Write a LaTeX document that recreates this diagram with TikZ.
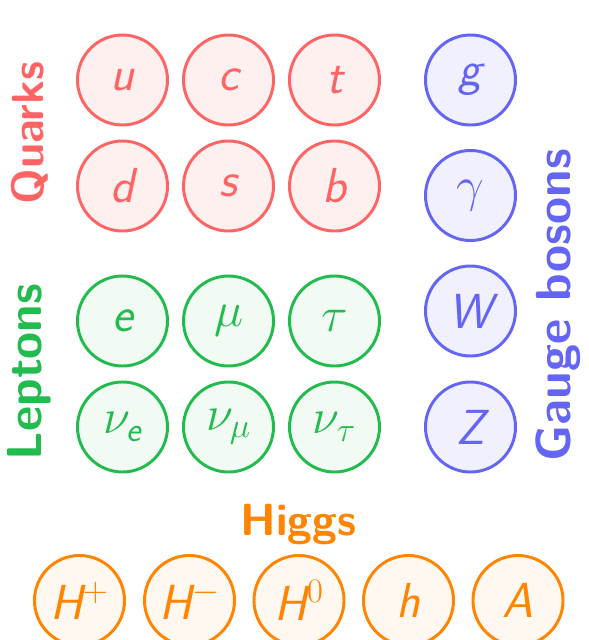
\documentclass[tikz,border=0pt]{standalone}
\usepackage{fix-cm}
\usepackage{amsmath}
\usepackage{xcolor}
\definecolor{QuarkRed}{HTML}{FF6464}
\definecolor{QuarkFill}{HTML}{FFF0F0}
\definecolor{LeptonGreen}{HTML}{22BB4E}
\definecolor{LeptonFill}{HTML}{F1FAF3}
\definecolor{BosonBlue}{HTML}{6464F5}
\definecolor{BosonFill}{HTML}{F0F0FF}
\definecolor{HiggsOrange}{HTML}{FF8400}
\definecolor{HiggsFill}{HTML}{FFF8F0}
\newcommand{\pl}[1]{{\sffamily\slshape #1}}

\begin{document}
\begin{tikzpicture}[x=0.025cm,y=-0.025cm,
    font=\fontsize{35}{40}\selectfont,
    particle/.style={circle,line width=2.1pt,minimum size=2.25cm,inner sep=0pt},
    quark/.style={particle,draw=QuarkRed,fill=QuarkFill,text=QuarkRed},
    lepton/.style={particle,draw=LeptonGreen,fill=LeptonFill,text=LeptonGreen},
    boson/.style={particle,draw=BosonBlue,fill=BosonFill,text=BosonBlue},
    higgs/.style={particle,draw=HiggsOrange,fill=HiggsFill,text=HiggsOrange},
    group/.style={font=\fontsize{32}{38}\selectfont\sffamily\bfseries},
    biggroup/.style={font=\fontsize{35}{40}\selectfont\sffamily\bfseries}]
      \useasboundingbox (0,0) rectangle (588,640);
      % quarks
      \node[quark] (u) at (122.5,80) {\pl{u}};
      \node[quark] (c) at (228.5,80) {\pl{c}};
      \node[quark] (t) at (334.5,80) {\pl{t}};
      \node[quark] (d) at (122.5,186) {\pl{d}};
      \node[quark] (s) at (228.5,186) {\pl{s}};
      \node[quark] (b) at (334.5,186) {\pl{b}};
      % leptons
      \node[lepton] (e) at (122.5,321) {\pl{e}};
      \node[lepton] (mu) at (228.5,321) {$\mu$};
      \node[lepton] (tau) at (334.5,321) {$\tau$};
      \node[lepton] (nue) at (122.5,427) {$\nu_{\text{\pl{e}}}$};
      \node[lepton] (numu) at (228.5,427) {$\nu_\mu$};
      \node[lepton] (nutau) at (334.5,427) {$\nu_\tau$};
      % gauge bosons
      \node[boson] (g) at (470.5,80) {\pl{g}};
      \node[boson] (gamma) at (470.5,195.5) {$\gamma$};
      \node[boson] (W) at (470.5,311) {\pl{W}};
      \node[boson] (Z) at (470.5,427) {\pl{Z}};
      % higgs
      \node[higgs] (Hp) at (79.5,600.5) {\pl{H}$^{+}$};
      \node[higgs] (Hm) at (189.5,600.5) {\pl{H}$^{-}$};
      \node[higgs] (H0) at (299,600.5) {\pl{H}$^{0}$};
      \node[higgs] (h) at (408.5,600.5) {\pl{h}};
      \node[higgs] (A) at (518,600.5) {\pl{A}};
      % group labels
      \node[group,text=QuarkRed,rotate=90] (quarks) at (30,133) {Quarks};
      \node[biggroup,text=LeptonGreen,rotate=90] (leptons) at (29,372) {Leptons};
      \node[biggroup,text=BosonBlue,rotate=90] (bosons) at (558,305) {Gauge bosons};
      \node[group,text=HiggsOrange,anchor=base] (higgslabel) at (298.5,535) {Higgs};
    \end{tikzpicture}
\end{document}
